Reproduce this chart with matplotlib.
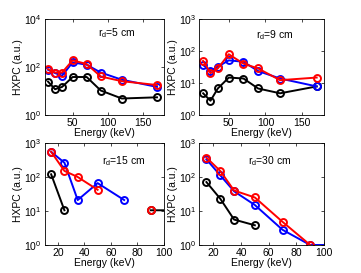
import numpy as np
import matplotlib
matplotlib.use("Agg")
import matplotlib.pyplot as plt

plt.rcParams['font.family'] = ['Liberation Sans', 'DejaVu Sans']
plt.rcParams['mathtext.default'] = 'regular'
plt.rcParams['font.size'] = 7.5

nan = np.nan

# r_d = 5 cm
e5 = [15, 25, 35, 50, 70, 90, 120, 170]
blue5 = [78, 57, 44, 160, 127, 60, 30, 15]
red5 = [84, 60, 60, 195, 136, 41, 26, 18]
black5 = [25, 12, 15, 39, 39, 10.6, 4.9, 5.5]

# r_d = 9 cm
e9 = [15, 25, 35, 50, 70, 90, 120, 170]
blue9 = [37, 24, 33, 52, 47, 24, 14, 7.9]
red9 = [50, 20.5, 29, 81, 41, 29, 12.4, 15]
black9 = [4.8, 2.8, 6.8, 15, 14, 6.8, 4.8, 7.9]

# r_d = 15 cm (gaps where nothing is drawn)
e15 = [15, 25, 35, 50, 70, 90, 120]
blue15 = [550, 263, 21, 66, 21, nan, nan]
red15 = [550, 151, 100, 42, nan, 10.5, nan]
black15 = [120, 10.5, nan, nan, nan, 10.5, 10.5]

# r_d = 30 cm
e30 = [15, 25, 35, 50, 70, 90, 120]
blue30 = [331, 112, 38, 15, 2.8, 1, 1]
red30 = [372, 151, 40, 25, 4.8, 1, nan]
black30 = [71, 23, 5.6, 3.8, nan, nan, nan]

panels = [
    (e5, blue5, red5, black5, 'r$_d$=5 cm', (10, 180), (1, 1e4), [50, 100, 150], [1, 1e2, 1e4], (0.45, 0.86)),
    (e9, blue9, red9, black9, 'r$_d$=9 cm', (10, 180), (1, 1e3), [50, 100, 150], [1, 10, 100, 1000], (0.45, 0.84)),
    (e15, blue15, red15, black15, 'r$_d$=15 cm', (10, 100), (1, 1e3), [20, 40, 60, 80, 100], [1, 10, 100, 1000], (0.48, 0.82)),
    (e30, blue30, red30, black30, 'r$_d$=30 cm', (10, 100), (1, 1e3), [20, 40, 60, 80, 100], [1, 10, 100, 1000], (0.39, 0.82)),
]

positions = [
    [0.1233, 0.5788, 0.331, 0.3498],
    [0.5526, 0.5788, 0.345, 0.3498],
    [0.1233, 0.1026, 0.331, 0.3736],
    [0.5526, 0.1026, 0.345, 0.3736],
]

fig = plt.figure(figsize=(3.61, 2.73), dpi=100)

for pos, (e, b, r, k, label, xl, yl, xt, yt, tpos) in zip(positions, panels):
    ax = fig.add_axes(pos)
    style = dict(marker='o', markersize=5, markerfacecolor='none', markeredgewidth=1.4, linewidth=1.4)
    ax.plot(e, k, color='black', **style)
    ax.plot(e, b, color='#0000ff', **style)
    ax.plot(e, r, color='#ff0000', **style)
    ax.set_yscale('log')
    ax.set_xlim(*xl)
    ax.set_ylim(*yl)
    ax.set_xticks(xt)
    ax.set_yticks(yt)
    ax.minorticks_off()
    ax.tick_params(direction='in', top=True, right=True, length=2.5, width=0.5, labelsize=7.5, pad=2)
    for s in ax.spines.values():
        s.set_linewidth(0.6)
    ax.set_xlabel('Energy (keV)', fontsize=7.5, labelpad=0)
    ax.set_ylabel('HXPC (a.u.)', fontsize=7.5, labelpad=1)
    ax.text(tpos[0], tpos[1], label, transform=ax.transAxes, fontsize=7.5, va='center')

fig.savefig('out.png', dpi=100)
